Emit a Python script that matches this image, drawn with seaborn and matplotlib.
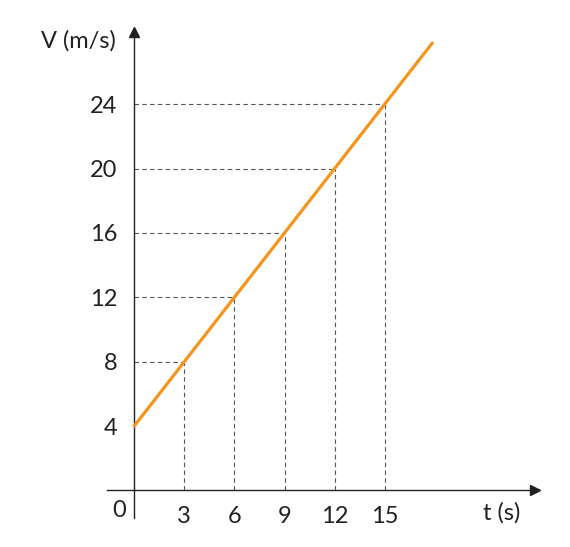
import numpy as np
import pandas as pd
import seaborn as sns
import matplotlib.pyplot as plt

# Values
t_marks = [3, 6, 9, 12, 15]
v_marks = [8, 12, 16, 20, 24]
line_t = [0, 3, 6, 9, 12, 15, 17.85]
line_v = [4, 8, 12, 16, 20, 24, 27.8]
y_ticks = [4, 8, 12, 16, 20, 24]

sns.set_style("white")
plt.rcParams['font.family'] = ['Lato', 'DejaVu Sans']

fig = plt.figure(figsize=(5.7, 5.47), dpi=100)
ax = fig.add_axes([0.1877, 0.0530, 0.7509, 0.889])

# dashed guide lines
ax.vlines(t_marks, 0, v_marks, colors="#555555", linestyles=(0, (4, 3)), linewidth=0.8)
ax.hlines(v_marks, 0, t_marks, colors="#555555", linestyles=(0, (4, 3)), linewidth=0.8)

df = pd.DataFrame({"t": line_t, "v": line_v})
sns.lineplot(data=df, x="t", y="v", color="#F7941D", linewidth=2.3, ax=ax, clip_on=False, zorder=5)

ax.set_xlim(-1.63, 24.0)
ax.set_ylim(-1.71, 28.5)

for s in ["top", "right"]:
    ax.spines[s].set_visible(False)
ax.spines["left"].set_position(("data", 0))
ax.spines["bottom"].set_position(("data", 0))
for s in ["left", "bottom"]:
    ax.spines[s].set_color("#222222")
    ax.spines[s].set_linewidth(1.0)

# arrow heads at the axis ends
ax.plot(1, 0, ">", color="#222222", markersize=7, transform=ax.get_yaxis_transform(), clip_on=False)
ax.plot(0, 1, "^", color="#222222", markersize=7, transform=ax.get_xaxis_transform(), clip_on=False)

ax.set_xticks(t_marks)
ax.set_yticks(y_ticks)
ax.tick_params(axis="both", direction="out", length=8, width=0.8, color="#222222",
               labelsize=17, labelcolor="#222222")
ax.tick_params(axis="x", pad=3)
ax.tick_params(axis="y", pad=4)
ax.set_xlabel("")
ax.set_ylabel("")

ax.text(-0.9, -1.25, "0", fontsize=17, color="#222222", ha="center", va="center")
ax.text(22.0, -1.4, "t (s)", fontsize=17, color="#222222", ha="center", va="center")
ax.text(-3.35, 27.95, "V (m/s)", fontsize=17, color="#222222", ha="center", va="center", clip_on=False)

fig.savefig("out.png", dpi=100)
